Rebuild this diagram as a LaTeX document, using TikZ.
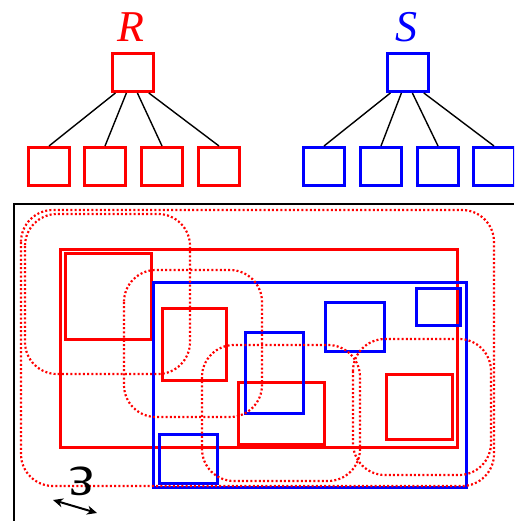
\documentclass[tikz,border=0pt]{standalone}
\usepackage{fontspec}
\setmainfont{Liberation Serif}
\usetikzlibrary{calc,arrows.meta}
\definecolor{pred}{RGB}{255,0,0}
\definecolor{pblue}{RGB}{0,0,255}
\begin{document}
\begin{tikzpicture}[x=1pt,y=-1pt,
  treebox/.style={draw,line width=3pt,minimum width=41pt,minimum height=38pt,inner sep=0pt},
  redbox/.style={treebox,draw=pred},
  bluebox/.style={treebox,draw=pblue},
  edge/.style={draw=black,line width=1.4pt},
  redrect/.style={draw=pred,line width=3.5pt},
  bluerect/.style={draw=pblue,line width=3.5pt},
  region/.style={draw=pred,line width=2.2pt,dash pattern=on 2pt off 2.2pt,rounded corners=32pt},
  lbl/.style={inner sep=0pt,font=\fontsize{44}{44}\selectfont\itshape},
  frame/.style={draw=black,line width=2.6pt}]
\useasboundingbox (0,0) rectangle (514,521);
\clip (0,0) rectangle (514,521);
% labels
\node[lbl,text=pred] (Rlab) at (131,27.5) {R};
\node[lbl,text=pblue] (Slab) at (406,27.5) {S};
% trees
\node[redbox] (r) at (133,72.5) {};
\node[redbox] (r1) at (49,166.5) {};
\node[redbox] (r2) at (105,166.5) {};
\node[redbox] (r3) at (162,166.5) {};
\node[redbox] (r4) at (219,166.5) {};
\node[bluebox] (s) at (408,72.5) {};
\node[bluebox] (s1) at (324,166.5) {};
\node[bluebox] (s2) at (381,166.5) {};
\node[bluebox] (s3) at (438,166.5) {};
\node[bluebox] (s4) at (494,166.5) {};
\foreach \p/\c in {r/r1,s/s1} \path[edge] ($(\p.south west)!.1!(\p.south east)$) -- (\c.north);
\foreach \p/\c in {r/r2,s/s2} \path[edge] ($(\p.south west)!.35!(\p.south east)$) -- (\c.north);
\foreach \p/\c in {r/r3,s/s3} \path[edge] ($(\p.south west)!.6!(\p.south east)$) -- (\c.north);
\foreach \p/\c in {r/r4,s/s4} \path[edge] ($(\p.south west)!.86!(\p.south east)$) -- (\c.north);
% frame
\path[frame] (14,521) -- (14,204) -- (514,204);
% red rectangles
\path[redrect] (60.5,249.5) rectangle (457.5,447.5);
\path[redrect] (65.5,253.5) rectangle (151.5,339.5);
\path[redrect] (162.5,308.5) rectangle (226.5,380.5);
\path[redrect] (238.5,382.5) rectangle (324.5,444.5);
\path[redrect] (386.5,374.5) rectangle (452.5,439.5);
% blue rectangles
\path[bluerect] (153.5,282.5) rectangle (466.5,487.5);
\path[bluerect] (245.5,332.5) rectangle (303.5,413.5);
\path[bluerect] (159.5,434.5) rectangle (217.5,483.5);
\path[bluerect] (325.5,302.5) rectangle (384.5,351.5);
\path[bluerect] (416.5,288.5) rectangle (460.5,325.5);
% dotted regions
\path[region] (21,210) rectangle (494,486);
\path[region] (25,214) rectangle (190,374);
\path[region] (124,270) rectangle (262,417);
\path[region] (202,345) rectangle (360,481);
\path[region] (353,339) rectangle (491,475);
% epsilon
\node[inner sep=0pt,rotate=180,font=\fontsize{60}{60}\selectfont] (eps) at (82,481) {ε};
\coordinate (ea) at (53,500);
\coordinate (eb) at (97,513);
\draw[line width=2pt,{Stealth[length=10pt,width=9pt]}-{Stealth[length=10pt,width=9pt]}] (ea) -- (eb);
\end{tikzpicture}
\end{document}
